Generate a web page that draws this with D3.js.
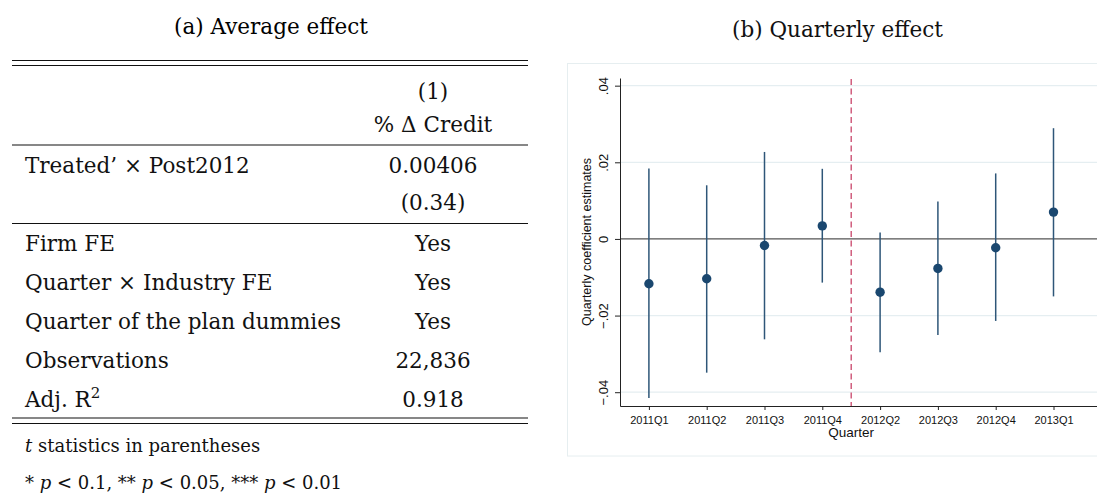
<!DOCTYPE html>
<html>
<head>
<meta charset="utf-8">
<script src="https://cdn.jsdelivr.net/npm/d3@7"></script>
<style>
  html, body { margin: 0; padding: 0; background: #fff; }
  svg { display: block; }
</style>
</head>
<body>
<div id="chart"></div>
<script>
// ---------------- DATA ----------------
const quarters  = ["2011Q1","2011Q2","2011Q3","2011Q4","2012Q2","2012Q3","2012Q4","2013Q1"];
const estimates = [-0.0117, -0.0104, -0.0017, 0.0034, -0.0139, -0.0077, -0.0023, 0.0070];
const ciLow     = [-0.0415, -0.0349, -0.0262, -0.0114, -0.0296, -0.0251, -0.0214, -0.0150];
const ciHigh    = [ 0.0184,  0.0140,  0.0227,  0.0183,  0.0017,  0.0098,  0.0171,  0.0289];
const yTickValues = [-0.04, -0.02, 0, 0.02, 0.04];
const yTickLabels = ["\u2212.04", "\u2212.02", "0", ".02", ".04"];
const eventPosition = 4.5; // between 2011Q4 and 2012Q2

const panelTitles = ["(a) Average effect", "(b) Quarterly effect"];
const yAxisTitle = "Quarterly coefficient estimates";
const xAxisTitle = "Quarter";

const headerLines   = ["(1)", "% \u0394 Credit"];
const coefLabel     = "Treated\u2019 \u00d7 Post2012";
const coefValue     = "0.00406";
const coefTstat     = "(0.34)";
const controlLabels = ["Firm FE", "Quarter \u00d7 Industry FE", "Quarter of the plan dummies", "Observations", "Adj. R"];
const controlValues = ["Yes", "Yes", "Yes", "22,836", "0.918"];

// ---------------- SETUP ----------------
const W = 1097, H = 494;
const svg = d3.select("#chart").append("svg")
  .attr("width", W).attr("height", H)
  .attr("viewBox", `0 0 ${W} ${H}`);
svg.append("rect").attr("width", W).attr("height", H).attr("fill", "#fff");

const serif = "'DejaVu Serif', serif";
const sans = "'Liberation Sans', Arial, Helvetica, sans-serif";

// ---------------- PANEL (a): TABLE ----------------
const tbl = svg.append("g");
const colLeft = 25, colCenter = 433, ruleX0 = 12, ruleX1 = 528;
const fs = 21.5;

tbl.append("text").attr("x", 271).attr("y", 33.5)
  .attr("text-anchor", "middle").attr("font-family", serif).attr("font-size", fs)
  .text(panelTitles[0]);

const rules = [60.5, 65.5, 145, 223.5, 418, 423.5];
tbl.selectAll("line.rule").data(rules).join("line")
  .attr("class", "rule")
  .attr("x1", ruleX0).attr("x2", ruleX1)
  .attr("y1", d => d).attr("y2", d => d)
  .attr("stroke", "#111").attr("stroke-width", 1.1);

function cell(x, y, txt, anchor) {
  return tbl.append("text").attr("x", x).attr("y", y)
    .attr("text-anchor", anchor).attr("font-family", serif)
    .attr("font-size", fs).attr("fill", "#111").text(txt);
}
cell(colCenter, 98.5, headerLines[0], "middle");
cell(colCenter, 132, headerLines[1], "middle");
cell(colLeft, 173.3, coefLabel, "start");
cell(colCenter, 173.3, coefValue, "middle");
cell(colCenter, 210, coefTstat, "middle");

controlLabels.forEach((lab, i) => {
  const y = 250.7 + i * 39;
  const t = cell(colLeft, y, lab, "start");
  if (i === controlLabels.length - 1) {
    t.append("tspan").attr("font-size", 15).attr("dy", -9).text("2");
  }
  cell(colCenter, y, controlValues[i], "middle");
});

// footnotes
const fn1 = tbl.append("text").attr("x", colLeft).attr("y", 451.7)
  .attr("font-family", serif).attr("font-size", 18).attr("fill", "#111");
fn1.append("tspan").attr("font-style", "italic").text("t");
fn1.append("tspan").text(" statistics in parentheses");

const fn2 = tbl.append("text").attr("x", colLeft).attr("y", 489)
  .attr("font-family", serif).attr("font-size", 18).attr("fill", "#111");
[["* ", false], ["p", true], [" < 0.1, ** ", false], ["p", true], [" < 0.05, *** ", false], ["p", true], [" < 0.01", false]]
  .forEach(([s, it]) => fn2.append("tspan").attr("font-style", it ? "italic" : "normal").text(s));

// ---------------- PANEL (b): CHART ----------------
svg.append("text").attr("x", 837.5).attr("y", 37)
  .attr("text-anchor", "middle").attr("font-family", serif).attr("font-size", fs)
  .attr("fill", "#111").text(panelTitles[1]);

// panel frame
svg.append("rect").attr("x", 567.5).attr("y", 63.5).attr("width", 540).attr("height", 392.5)
  .attr("fill", "#fff").attr("stroke", "#e6eef0").attr("stroke-width", 1);

const plotLeft = 620, plotTop = 78, plotBottom = 406;
const x = d3.scaleLinear().domain([0.5, 8.8]).range([plotLeft, plotLeft + 8.3 * 57.8]);
const y = d3.scaleLinear().domain([-0.0436, 0.042]).range([plotBottom, plotTop]);
const xRight = x.range()[1];

const g = svg.append("g");

// gridlines
g.selectAll("line.grid").data(yTickValues.filter(v => v !== 0)).join("line")
  .attr("class", "grid")
  .attr("x1", plotLeft).attr("x2", xRight)
  .attr("y1", d => y(d)).attr("y2", d => y(d))
  .attr("stroke", "#e5eef1").attr("stroke-width", 1.2);

// zero line
g.append("line")
  .attr("x1", plotLeft).attr("x2", xRight)
  .attr("y1", y(0)).attr("y2", y(0))
  .attr("stroke", "#555").attr("stroke-width", 1.3);

// event line
g.append("line")
  .attr("x1", x(eventPosition)).attr("x2", x(eventPosition))
  .attr("y1", plotTop + 1).attr("y2", plotBottom)
  .attr("stroke", "#c9466a").attr("stroke-width", 1.3)
  .attr("stroke-dasharray", "6,3.5");

// confidence intervals
const idx = d3.range(quarters.length);
g.selectAll("line.ci").data(idx).join("line")
  .attr("class", "ci")
  .attr("x1", i => x(i + 1)).attr("x2", i => x(i + 1))
  .attr("y1", i => y(ciLow[i])).attr("y2", i => y(ciHigh[i]))
  .attr("stroke", "#2e5678").attr("stroke-width", 1.5);

// point estimates
g.selectAll("circle.pt").data(idx).join("circle")
  .attr("class", "pt")
  .attr("cx", i => x(i + 1)).attr("cy", i => y(estimates[i]))
  .attr("r", 4.7).attr("fill", "#1a476f");

// y axis
const yAxis = d3.axisLeft(y).tickValues(yTickValues).tickSize(5).tickSizeOuter(0)
  .tickFormat((d, i) => yTickLabels[i]);
const yg = g.append("g").attr("transform", `translate(${plotLeft},0)`).call(yAxis);
yg.select(".domain").attr("stroke", "#222");
yg.selectAll(".tick line").attr("stroke", "#222");
yg.selectAll(".tick text")
  .attr("x", null).attr("dy", null)
  .attr("transform", "translate(-12,0) rotate(-90)")
  .attr("text-anchor", "middle")
  .attr("font-family", sans).attr("font-size", 13).attr("fill", "#111");

// x axis
const xAxis = d3.axisBottom(x).tickValues(idx.map(i => i + 1)).tickSize(4).tickSizeOuter(0)
  .tickPadding(6).tickFormat(d => quarters[d - 1]);
const xg = g.append("g").attr("transform", `translate(0,${plotBottom})`).call(xAxis);
xg.select(".domain").attr("stroke", "#222");
xg.selectAll(".tick line").attr("stroke", "#222");
xg.selectAll(".tick text")
  .attr("font-family", sans).attr("font-size", 11).attr("fill", "#111");

// axis titles
g.append("text")
  .attr("transform", `translate(590.5,${(y(0.04) + y(-0.04)) / 2 + 3}) rotate(-90)`)
  .attr("text-anchor", "middle").attr("font-family", sans).attr("font-size", 12.5)
  .attr("fill", "#111").text(yAxisTitle);

g.append("text")
  .attr("x", x(eventPosition)).attr("y", 436.5)
  .attr("text-anchor", "middle").attr("font-family", sans).attr("font-size", 13.5)
  .attr("fill", "#111").text(xAxisTitle);
</script>
</body>
</html>
